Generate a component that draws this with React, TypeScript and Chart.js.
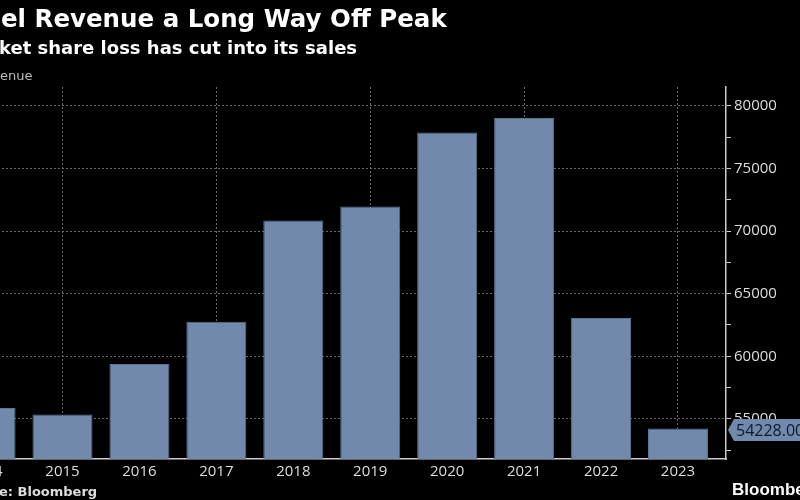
import React, { useEffect, useRef } from "react";
import { Chart, registerables } from "chart.js";

Chart.register(...registerables);

const years = ["2014", "2015", "2016", "2017", "2018", "2019", "2020", "2021", "2022", "2023"];
const revenue = [55870, 55355, 59387, 62761, 70848, 71965, 77867, 79024, 63054, 54228];
const yTickValues = [52500, 55000, 57500, 60000, 62500, 65000, 67500, 70000, 72500, 75000, 77500, 80000];
const lastValueLabel = "54228.00";

const titleText = "el Revenue a Long Way Off Peak";
const subtitleText = "ket share loss has cut into its sales";
const axisTitleText = "enue";
const sourceText = "e: Bloomberg";
const brandText = "Bloomberg";

const SHIFT = 70; // canvas starts this far left of the page
const W = 800 + SHIFT;
const H = 500;
const BAR = "#7189ab";

export default function App() {
  const ref = useRef<HTMLCanvasElement | null>(null);

  useEffect(() => {
    document.body.style.background = "#000";
    document.body.style.overflow = "hidden";
    const canvas = ref.current;
    if (!canvas) return;

    const textPlugin = {
      id: "texts",
      afterDraw(chart: any) {
        const c = chart.ctx;
        c.save();
        c.textBaseline = "alphabetic";
        c.textAlign = "left";
        c.fillStyle = "#ffffff";
        c.font = "bold 24.5px 'DejaVu Sans'";
        c.fillText(titleText, SHIFT + 1, 27);
        c.font = "bold 18px 'DejaVu Sans'";
        c.fillText(subtitleText, SHIFT - 1, 54);
        c.fillStyle = "#bbbbbb";
        c.font = "13px 'DejaVu Sans'";
        c.fillText(axisTitleText, SHIFT, 80);
        c.fillStyle = "#dddddd";
        c.font = "bold 13px 'DejaVu Sans'";
        c.fillText(sourceText, SHIFT - 1, 496);
        c.fillStyle = "#ffffff";
        c.font = "bold 17px 'Liberation Sans'";
        c.fillText(brandText, SHIFT + 732, 495);

        // last value tag
        const yScale = chart.scales.y;
        const yv = yScale.getPixelForValue(revenue[revenue.length - 1]) + 1.5;
        const ax = chart.chartArea.right + 2;
        c.fillStyle = BAR;
        c.beginPath();
        c.moveTo(ax, yv);
        c.lineTo(ax + 6, yv - 11);
        c.lineTo(W, yv - 11);
        c.lineTo(W, yv + 11);
        c.lineTo(ax + 6, yv + 11);
        c.closePath();
        c.fill();
        c.fillStyle = "#0b1a2e";
        c.font = "16px 'Open Sans'";
        c.textBaseline = "middle";
        c.fillText(lastValueLabel, ax + 8, yv + 1);
        c.restore();
      },
    };

    const chart = new Chart(canvas, {
      type: "bar",
      data: {
        datasets: [
          {
            data: revenue.map((v, i) => ({ x: i, y: v })),
            backgroundColor: BAR,
            borderColor: "#5f7595",
            borderWidth: 1,
            barPercentage: 1,
            categoryPercentage: 0.78,
          },
        ],
      },
      options: {
        animation: false,
        responsive: false,
        maintainAspectRatio: false,
        layout: { padding: { left: 8, top: 87, right: 0, bottom: 0 } },
        plugins: {
          legend: { display: false },
          tooltip: { enabled: false },
          title: { display: false },
        },
        scales: {
          x: {
            type: "linear",
            min: -0.618,
            max: 9.624,
            offset: false,
            afterBuildTicks: (s: any) => {
              s.ticks = years.map((_, i) => ({ value: i }));
            },
            afterFit: (s: any) => {
              s.height = 41;
            },
            grid: {
              offset: false,
              drawTicks: false,
              color: (ctx: any) => (ctx.tick && ctx.tick.value % 2 === 1 ? "#6a6a6a" : "transparent"),
              lineWidth: 1,
            },
            border: { display: true, color: "#cccccc", width: 1.5, dash: [2, 2] as any },
            ticks: {
              autoSkip: false,
              maxRotation: 0,
              padding: 4,
              color: "#dddddd",
              font: { family: "'Open Sans'", size: 15 },
              callback: (v: any) => years[v as number] ?? "",
            },
          },
          y: {
            type: "linear",
            position: "right",
            min: 51800,
            max: 81500,
            afterBuildTicks: (s: any) => {
              s.ticks = yTickValues.map((v) => ({ value: v }));
            },
            afterFit: (s: any) => {
              s.width = 74;
            },
            grid: {
              color: (ctx: any) => (ctx.tick && ctx.tick.value % 5000 === 0 ? "#6a6a6a" : "transparent"),
              tickColor: "#cccccc",
              tickLength: 5,
              lineWidth: 1,
            },
            border: { display: true, color: "#cccccc", width: 1.5, dash: [2, 2] as any },
            ticks: {
              padding: 3,
              color: "#dddddd",
              font: { family: "'Open Sans'", size: 15 },
              callback: (v: any) => ((v as number) % 5000 === 0 ? String(v) : ""),
            },
          },
        },
      },
      plugins: [textPlugin],
    });
    return () => chart.destroy();
  }, []);

  return (
    <div style={{ position: "fixed", left: -SHIFT, top: 0, width: W, height: H, background: "#000" }}>
      <canvas ref={ref} width={W} height={H} style={{ display: "block" }} />
    </div>
  );
}
